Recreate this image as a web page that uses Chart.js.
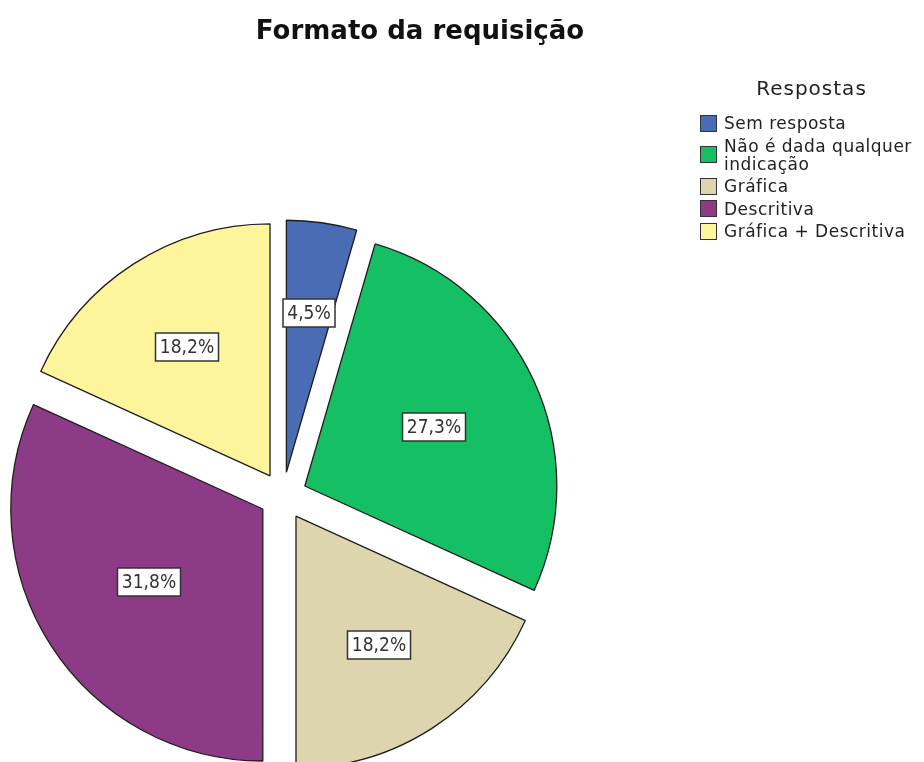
<!DOCTYPE html>
<html lang="pt">
<head>
<meta charset="utf-8">
<title>Formato da requisição</title>
<script src="https://cdn.jsdelivr.net/npm/chart.js@4.4.1/dist/chart.umd.min.js"></script>
<style>
  html, body { margin: 0; padding: 0; background: #fff; }
  #wrap { position: relative; width: 924px; height: 762px; overflow: hidden; }
  #pieChart { position: absolute; left: 0; top: 0; }
  #chartTitle {
    position: absolute; left: 0; top: 15px; width: 840px;
    text-align: center; font: bold 26px/30px "DejaVu Sans", sans-serif; color: #111;
  }
  #legend {
    position: absolute; left: 699px; top: 76px; width: 225px;
    font-family: "DejaVu Sans", sans-serif; color: #222;
  }
  #legend .legend-title {
    text-align: center; font-size: 20px; line-height: 24px;
    letter-spacing: 1px; margin-bottom: 14px;
  }
  #legend .legend-item {
    display: flex; align-items: center; margin-bottom: 4.5px;
  }
  #legend .swatch {
    flex: none; width: 15px; height: 15px; margin-left: 1px; margin-right: 7px;
    border: 1px solid #333;
  }
  #legend .text {
    width: 200px; font-size: 17px; line-height: 18px; letter-spacing: 0.5px;
  }
</style>
</head>
<body>
<div id="wrap">
  <canvas id="pieChart" width="924" height="762"></canvas>
  <div id="chartTitle">Formato da requisição</div>
  <div id="legend"></div>
</div>
<script>
// categories and values (percent of answers)
const categories = [
  "Sem resposta",
  "Não é dada qualquer indicação",
  "Gráfica",
  "Descritiva",
  "Gráfica + Descritiva",
];
const percentages = [4.5, 27.3, 18.2, 31.8, 18.2];
const legendTitle = "Respostas";

const sliceColors = ["#4a6cb5", "#15c064", "#ddd5ad", "#8e3b87", "#fdf59b"];
const EXPLODE_PX = 24;
const LABEL_PULL = 0.96;

function formatPct(v) {
  return v.toFixed(1).replace(".", ",") + "%";
}

// move every slice out from the centre along its mid angle
const explodePlugin = {
  id: "explode",
  beforeDatasetsDraw(chart) {
    const { left, right, top, bottom } = chart.chartArea;
    const cx = (left + right) / 2;
    const cy = (top + bottom) / 2;
    chart.getDatasetMeta(0).data.forEach((arc) => {
      const mid = (arc.startAngle + arc.endAngle) / 2;
      arc.x = cx + Math.cos(mid) * EXPLODE_PX;
      arc.y = cy + Math.sin(mid) * EXPLODE_PX;
    });
  },
};

// boxed percentage labels near each slice centroid
const sliceLabelPlugin = {
  id: "sliceLabels",
  afterDatasetsDraw(chart) {
    const ctx = chart.ctx;
    const meta = chart.getDatasetMeta(0);
    ctx.save();
    ctx.font = '19px "DejaVu Sans Condensed", "DejaVu Sans", sans-serif';
    ctx.textAlign = "center";
    ctx.textBaseline = "middle";
    meta.data.forEach((arc, i) => {
      const half = (arc.endAngle - arc.startAngle) / 2;
      const mid = arc.startAngle + half;
      const dist = ((2 * arc.outerRadius * Math.sin(half)) / (3 * half)) * LABEL_PULL;
      const x = Math.round(arc.x + Math.cos(mid) * dist);
      const y = Math.round(arc.y + Math.sin(mid) * dist);
      const text = formatPct(percentages[i]);
      const w = Math.round(ctx.measureText(text).width + 9);
      const h = 28;
      ctx.fillStyle = "#fff";
      ctx.fillRect(x - w / 2, y - h / 2, w, h);
      ctx.strokeStyle = "#333";
      ctx.lineWidth = 1.5;
      ctx.strokeRect(x - w / 2, y - h / 2, w, h);
      ctx.fillStyle = "#333";
      ctx.fillText(text, x, y + 1);
    });
    ctx.restore();
  },
};

function buildLegend() {
  const box = document.getElementById("legend");
  const title = document.createElement("div");
  title.className = "legend-title";
  title.textContent = legendTitle;
  box.appendChild(title);
  categories.forEach((name, i) => {
    const item = document.createElement("div");
    item.className = "legend-item";
    const sw = document.createElement("span");
    sw.className = "swatch";
    sw.style.background = sliceColors[i];
    const txt = document.createElement("span");
    txt.className = "text";
    txt.textContent = name;
    item.appendChild(sw);
    item.appendChild(txt);
    box.appendChild(item);
  });
}

buildLegend();

new Chart(document.getElementById("pieChart").getContext("2d"), {
  type: "pie",
  data: {
    labels: categories,
    datasets: [
      {
        data: percentages,
        backgroundColor: sliceColors,
        borderColor: "#1e1e1e",
        borderWidth: 1.3,
      },
    ],
  },
  options: {
    responsive: false,
    animation: false,
    events: [],
    radius: 252,
    layout: { padding: { left: 0, right: 358, top: 230, bottom: 0 } },
    plugins: {
      legend: { display: false },
      title: { display: false },
      tooltip: { enabled: false },
    },
  },
  plugins: [explodePlugin, sliceLabelPlugin],
});
</script>
</body>
</html>
